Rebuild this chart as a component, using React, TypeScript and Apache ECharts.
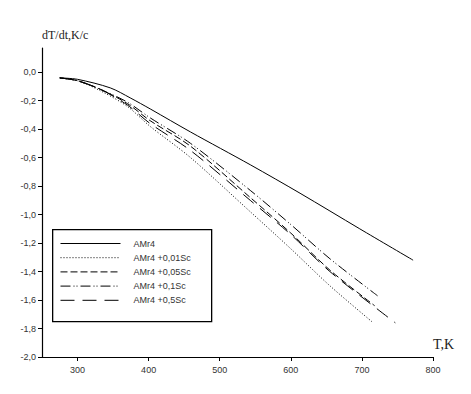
import React, { useEffect, useRef } from "react";
import * as echarts from "echarts";

const seriesNames = ["AMr4", "AMr4 +0,01Sc", "AMr4 +0,05Sc", "AMr4 +0,1Sc", "AMr4 +0,5Sc"];

const amr4: [number, number][] = [
  [275, -0.04], [300, -0.05], [346, -0.11], [374, -0.18], [403, -0.26], [459, -0.42],
  [543, -0.65], [613, -0.85], [697, -1.1], [772, -1.32],
];
const sc001: [number, number][] = [
  [275, -0.04], [300, -0.06], [332, -0.13], [370, -0.24], [402, -0.38], [459, -0.6],
  [543, -0.98], [600, -1.24], [655, -1.5], [716, -1.76],
];
const sc005: [number, number][] = [
  [275, -0.04], [300, -0.06], [332, -0.12], [370, -0.22], [402, -0.34], [459, -0.52],
  [543, -0.88], [600, -1.13], [655, -1.39], [718, -1.64],
];
const sc01: [number, number][] = [
  [275, -0.04], [300, -0.06], [332, -0.12], [370, -0.21], [402, -0.32], [459, -0.5],
  [543, -0.83], [600, -1.07], [655, -1.31], [722, -1.57],
];
const sc05: [number, number][] = [
  [275, -0.04], [300, -0.06], [332, -0.12], [370, -0.23], [402, -0.36], [459, -0.55],
  [543, -0.9], [600, -1.14], [655, -1.4], [747, -1.76],
];

const xTicks = [300, 400, 500, 600, 700, 800];
const yTicks = [-2, -1.8, -1.6, -1.4, -1.2, -1, -0.8, -0.6, -0.4, -0.2, 0];

const dataSets = [amr4, sc001, sc005, sc01, sc05];
const dashTypes: any[] = ["solid", [1, 2], [7, 3], [10, 3, 1, 2, 1, 3], [14, 8]];

export default function App() {
  const ref = useRef<HTMLDivElement>(null);
  useEffect(() => {
    if (!ref.current) return;
    const chart = echarts.init(ref.current, undefined, { renderer: "svg" });
    const labelFont = { fontFamily: "Liberation Sans, Arial, sans-serif", fontSize: 9, color: "#333" };
    chart.setOption({
      animation: false,
      backgroundColor: "#fff",
      grid: { left: 42, right: 38, top: 48, bottom: 37, containLabel: false },
      xAxis: {
        type: "value",
        min: 250,
        max: 800,
        axisLine: { show: true, onZero: false, lineStyle: { color: "#000", width: 1.2 } },
        axisTick: { show: true, customValues: xTicks, length: 4, lineStyle: { color: "#000" } },
        axisLabel: { customValues: xTicks, ...labelFont, margin: 8 },
        splitLine: { show: false },
      },
      yAxis: {
        type: "value",
        min: -2,
        max: 0.17,
        axisLine: { show: true, onZero: false, lineStyle: { color: "#000", width: 1.2 } },
        axisTick: { show: true, customValues: yTicks, length: 4, lineStyle: { color: "#000" } },
        axisLabel: {
          customValues: yTicks,
          ...labelFont,
          margin: 6,
          formatter: (v: number) => v.toFixed(1).replace(".", ","),
        },
        splitLine: { show: false },
      },
      legend: {
        show: true,
        orient: "vertical",
        left: 60,
        top: 239,
        padding: 0,
        itemWidth: 60,
        itemHeight: 10,
        itemGap: 5.2,
        itemStyle: { opacity: 0 },
        lineStyle: { width: 1 },
        textStyle: { ...labelFont, padding: [0, 0, 0, 8] },
        data: seriesNames,
      },
      graphic: [
        {
          type: "rect",
          left: 52,
          top: 229,
          shape: { width: 159, height: 92 },
          style: { fill: "#fff", stroke: "#000", lineWidth: 1.3 },
          z: 0,
        },
        {
          type: "text",
          left: 42,
          top: 29,
          style: { text: "dT/dt,K/c", font: "12px 'Liberation Serif', 'Times New Roman', serif", fill: "#222" },
        },
        {
          type: "text",
          left: 433,
          top: 337,
          style: { text: "T,K", font: "14px 'Liberation Serif', 'Times New Roman', serif", fill: "#222" },
        },
      ],
      series: dataSets.map((d, i) => ({
        name: seriesNames[i],
        type: "line",
        data: d,
        smooth: 0.3,
        symbol: "none",
        lineStyle: { color: "#000", width: 1, type: dashTypes[i] },
        itemStyle: { color: "#000" },
        z: 3,
      })),
    });
    return () => chart.dispose();
  }, []);
  return <div ref={ref} style={{ position: "fixed", left: 0, top: 0, width: 471, height: 394 }} />;
}
